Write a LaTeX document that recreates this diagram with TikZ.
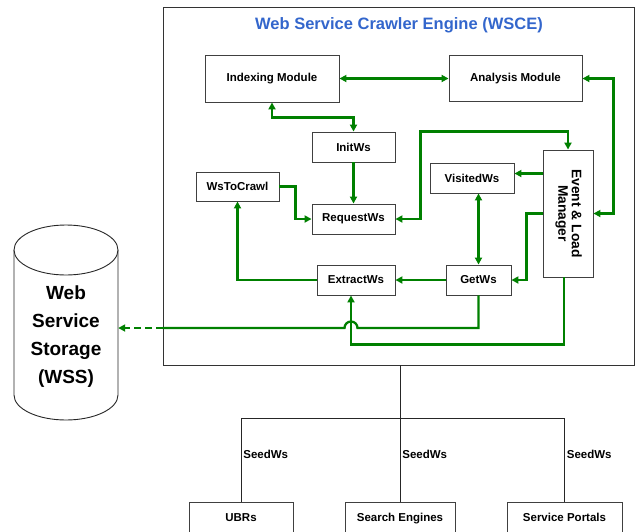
\documentclass[tikz,border=0pt]{standalone}
\usepackage{fontspec}
\setmainfont{Liberation Sans}
\usepackage{graphicx}
\usetikzlibrary{arrows.meta}

\definecolor{wsgreen}{RGB}{0,128,0}
\definecolor{wsblue}{RGB}{51,102,204}

\begin{document}
\begin{tikzpicture}[x=1pt, y=-1pt,
			>={Triangle[length=7pt, width=7pt]},
			box/.style={draw=black!75, line width=0.9pt, fill=white, inner sep=0pt, font=\fontsize{11.5}{13}\selectfont\bfseries, text centered},
			source/.style={box, minimum height=32pt, text height=8.5pt, text depth=2.5pt},
			frame/.style={draw=black!80, line width=0.9pt, inner sep=0pt},
			title/.style={font=\fontsize{16.5}{19}\selectfont\bfseries, text=wsblue},
			link/.style={draw=wsgreen, line width=2.3pt},
			tree/.style={draw=black!85, line width=0.8pt},
			seed/.style={font=\fontsize{11.5}{13}\selectfont\bfseries, anchor=west, inner sep=2pt},
			store/.style={font=\fontsize{19}{28}\selectfont\bfseries, align=center},
		]
		\useasboundingbox (0,0) rectangle (635,531);
		\clip (0,0) rectangle (635,531);

		% crawler engine
		\node[frame, minimum width=471pt, minimum height=358pt] (wsce) at (398.5,186) {};
		\node[title] (title) at (399,25) {Web Service Crawler Engine (WSCE)};

		\node[box, minimum width=134pt, minimum height=47pt] (index) at (272,78.5) {Indexing Module};
		\node[box, minimum width=133pt, minimum height=46pt] (analysis) at (515.5,78.5) {Analysis Module};
		\node[box, minimum width=83pt, minimum height=30pt] (initws) at (353.5,147) {InitWs};
		\node[box, minimum width=83pt, minimum height=29pt] (wstocrawl) at (237.5,186.5) {WsToCrawl};
		\node[box, minimum width=83pt, minimum height=30pt] (requestws) at (353.5,219) {RequestWs};
		\node[box, minimum width=84pt, minimum height=30pt] (visitedws) at (472,178) {VisitedWs};
		\node[box, minimum width=50pt, minimum height=127pt] (manager) at (568,213.5)
			{\rotatebox{-90}{\fontsize{13.8}{13.5}\selectfont\begin{tabular}{@{}c@{}}Event \& Load\\Manager\end{tabular}}};
		\node[box, minimum width=78pt, minimum height=30pt] (extractws) at (356,280) {ExtractWs};
		\node[box, minimum width=65pt, minimum height=30pt] (getws) at (478.5,280) {GetWs};
		\coordinate (jump) at (351,328);

		% storage
		\draw[draw=black!85, line width=0.9pt, fill=white] (14,250) -- (14,395) arc[start angle=180, end angle=360, x radius=52pt, y radius=25pt] -- (118,250);
		\draw[draw=black!85, line width=0.9pt, fill=white] (66,250) ellipse[x radius=52pt, y radius=25pt];
		\node[store, minimum width=104pt] (wss) at (66,337) {Web\\Service\\Storage\\(WSS)};

		% sources
		\node[source, minimum width=104pt] (ubrs) at (241,518) {UBRs};
		\node[source, minimum width=110pt] (search) at (400,518) {Search Engines};
		\node[source, minimum width=115pt] (portals) at (564.5,518) {Service Portals};
		\coordinate (fork) at (400,418);

		\draw[link, <->] (index) -- (analysis);
		\draw[link, <->] (index.south) -- ++(0,15) -| (initws.north);
		\draw[link, ->] (initws) -- (requestws);
		\draw[link, ->] (wstocrawl.east) -- ++(16,0) |- (requestws.west);
		\draw[link, <->] (requestws.east) -- ++(25,0) |- ([yshift=18pt]manager.north) -- (manager.north);
		\draw[link, <->] (analysis.east) -- ++(31,0) |- (manager.east);
		\draw[link, ->] ([yshift=40pt]manager.west) -- ([yshift=40pt]manager.west -| visitedws.east);
		\draw[link, ->] (manager.west) -- ++(-16,0) |- (getws.east);
		\draw[link, <->] (getws.north) -- (getws.north |- visitedws.south);
		\draw[link, ->] (getws) -- (extractws);
		\draw[link, ->] (extractws.west) -| (wstocrawl.south);
		\draw[link, ->] ([xshift=-4pt]manager.south) -- ++(0,67) -| ([xshift=-5pt]extractws.south);
		\draw[link] (getws.south) |- ([xshift=6.5pt]jump) arc[start angle=0, end angle=180, radius=6.5pt] -- (wsce.west |- jump);
		\draw[link, line width=2pt, dash pattern=on 7pt off 4pt, ->] (wsce.west |- jump) -- ([yshift=9pt]wss.east);

		\draw[tree] (search.north |- wsce.south) -- node[seed, pos=0.65] {SeedWs} (search.north);
		\draw[tree] (ubrs.north) -- node[seed, pos=0.57] {SeedWs} (ubrs.north |- fork) -- (fork -| portals.north) -- node[seed, pos=0.43] {SeedWs} (portals.north);

		\end{tikzpicture}
\end{document}
